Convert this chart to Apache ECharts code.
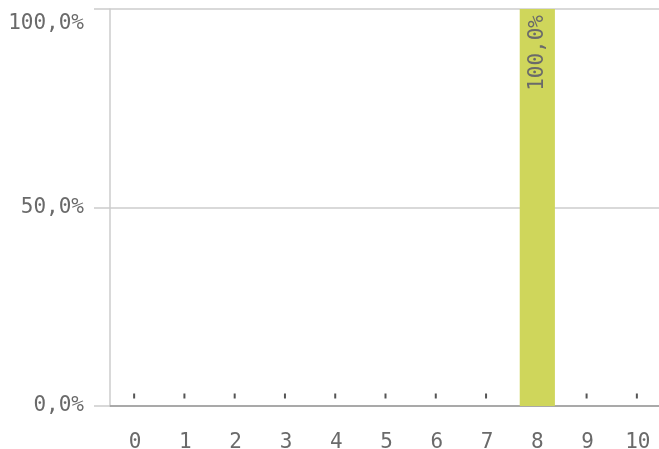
<!DOCTYPE html>
<html>
<head>
<meta charset="utf-8">
<script src="https://cdn.jsdelivr.net/npm/echarts@6/dist/echarts.min.js"></script>
<style>html,body{margin:0;padding:0;background:#fff}#c{width:659px;height:449px}</style>
</head>
<body>
<div id="c"></div>
<script>
var categories = ['0','1','2','3','4','5','6','7','8','9','10'];
var values = [0,0,0,0,0,0,0,0,100,0,0];
var yTicks = [0, 50, 100];

function fmt(v){ return v.toFixed(1).replace('.', ',') + '%'; }
var FONT = '"DejaVu Sans Mono", monospace';
var chart = echarts.init(document.getElementById('c'), null, {renderer:'canvas'});
var data = values.map(function(v){
  if (v === 0) {
    return {value: v, label: {show: true, position: 'top', distance: 10, rotate: 0,
      formatter: '{t|}', rich: {t: {width: 2, height: 5, backgroundColor: '#555'}}}};
  }
  return v;
});
chart.setOption({
  animation: false,
  grid: {left: 110, width: 553, top: 9, height: 397, containLabel: false, outerBoundsMode: 'none'},
  xAxis: {
    type: 'category', data: categories,
    axisLine: {show: true, lineStyle: {color: '#999', width: 1.5}},
    axisTick: {show: false},
    axisLabel: {color: '#6a6a6a', fontFamily: FONT, fontSize: 21, margin: 26},
    splitLine: {show: false}
  },
  yAxis: {
    type: 'value', min: yTicks[0], max: yTicks[yTicks.length-1], interval: yTicks[1]-yTicks[0],
    axisLine: {show: true, lineStyle: {color: '#ccc', width: 1.5}},
    axisTick: {show: true, length: 16, lineStyle: {color: '#ccc', width: 1.5}},
    axisLabel: {color: '#6a6a6a', fontFamily: FONT, fontSize: 21, margin: 26,
      verticalAlignMaxLabel: 'top', padding: [4, 0, 0, 0],
      formatter: function(v){ return fmt(v); }},
    splitLine: {show: true, lineStyle: {color: '#ccc', width: 1.5}}
  },
  series: [{
    type: 'bar', data: data, barWidth: '70%',
    itemStyle: {color: '#cfd65b'},
    label: {show: true, position: 'insideTop', rotate: 90, align: 'right', verticalAlign: 'middle',
      distance: 6, color: '#6a6a6a', fontFamily: FONT, fontSize: 21,
      formatter: function(p){ return fmt(p.value); }}
  }]
});
</script>
</body>
</html>
